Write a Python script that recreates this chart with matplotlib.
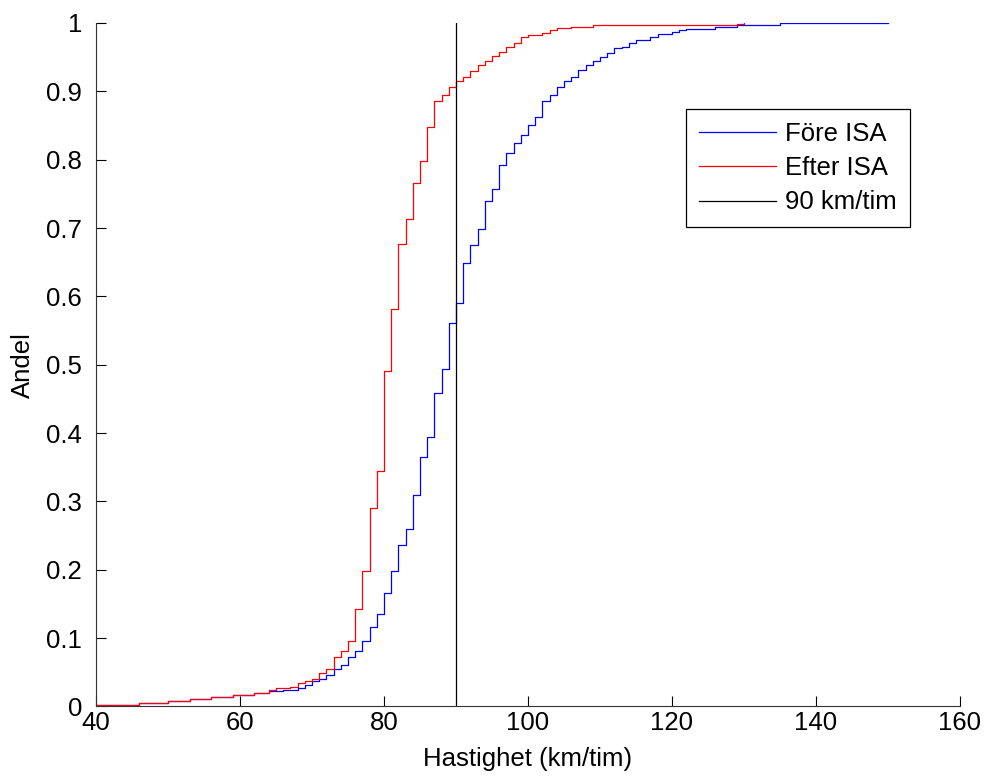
import numpy as np
import matplotlib
matplotlib.use('Agg')
import matplotlib.pyplot as plt

# Kumulativ fördelning av hastighet
fore_x = [40, 46, 50, 53, 56, 59, 62, 64, 66, 68, 69, 70, 71, 72, 73, 74, 75, 76, 77, 78,
          79, 80, 81, 82, 83, 84, 85, 86, 87, 88, 89, 90, 91, 92, 93, 94, 95, 96, 97, 98,
          99, 100, 101, 102, 103, 104, 105, 106, 107, 108, 109, 110, 111, 112, 113, 114,
          115, 117, 118, 120, 121, 122, 126, 129, 135, 150]
fore_y = [0.002, 0.0056, 0.0085, 0.011, 0.014, 0.017, 0.020, 0.022, 0.024, 0.027,
          0.031, 0.037, 0.040, 0.0466, 0.055, 0.061, 0.073, 0.081, 0.096, 0.116,
          0.136, 0.1665, 0.198, 0.236, 0.259, 0.309, 0.3646, 0.394, 0.4587, 0.4933,
          0.561, 0.590, 0.649, 0.675, 0.6986, 0.740, 0.757, 0.792, 0.810, 0.824,
          0.836, 0.851, 0.862, 0.886, 0.895, 0.906, 0.915, 0.921, 0.931, 0.9386,
          0.9444, 0.9507, 0.9566, 0.963, 0.9654, 0.970, 0.9747, 0.9795, 0.9834, 0.9864,
          0.9893, 0.9917, 0.9941, 0.997, 0.9993, 1.0]

efter_x = [40, 46, 50, 53, 56, 59, 62, 64, 65, 67, 68, 69, 70, 71, 72, 73, 74, 75, 76, 77,
           78, 79, 80, 81, 82, 83, 84, 85, 86, 87, 88, 89, 90, 91, 92, 93, 94, 95, 96, 97,
           98, 99, 100, 102, 103, 104, 106, 109, 129, 130]
efter_y = [0.002, 0.0056, 0.0085, 0.011, 0.014, 0.017, 0.020, 0.024, 0.027, 0.029,
           0.034, 0.037, 0.040, 0.049, 0.055, 0.073, 0.081, 0.096, 0.142, 0.198,
           0.291, 0.345, 0.491, 0.582, 0.676, 0.713, 0.766, 0.798, 0.848, 0.886,
           0.895, 0.906, 0.915, 0.921, 0.930, 0.939, 0.945, 0.951, 0.957, 0.965,
           0.971, 0.980, 0.983, 0.985, 0.989, 0.992, 0.9946, 0.9975, 0.999, 1.0]

grans = 90
x_ticks = [40, 60, 80, 100, 120, 140, 160]
y_ticks = [0, 0.1, 0.2, 0.3, 0.4, 0.5, 0.6, 0.7, 0.8, 0.9, 1]
y_ticklabels = ['0', '0.1', '0.2', '0.3', '0.4', '0.5', '0.6', '0.7', '0.8', '0.9', '1']

plt.rcParams['font.family'] = ['Liberation Sans', 'DejaVu Sans']
plt.rcParams['font.size'] = 18.5

fig = plt.figure(figsize=(9.89, 7.76), dpi=100)
ax = fig.add_axes([0.097, 0.0896, 0.8736, 0.8808])

ax.step(fore_x, fore_y, where='post', color='b', lw=0.9, label='Före ISA')
ax.step(efter_x, efter_y, where='post', color='r', lw=0.9, label='Efter ISA')
ax.plot([grans, grans], [0, 1], color='k', lw=0.9, label='90 km/tim')

ax.set_xlim(40, 160)
ax.set_ylim(0, 1)
ax.set_xticks(x_ticks)
ax.set_yticks(y_ticks)
ax.set_yticklabels(y_ticklabels)
ax.tick_params(direction='in', length=7, width=0.8, colors='k')
ax.tick_params(axis='x', pad=3)
ax.tick_params(axis='y', pad=10)
ax.spines['top'].set_visible(False)
ax.spines['right'].set_visible(False)
for s in ['left', 'bottom']:
    ax.spines[s].set_linewidth(0.8)
    ax.spines[s].set_color('#333333')

ax.set_xlabel('Hastighet (km/tim)', labelpad=9)
ax.set_ylabel('Andel', labelpad=8)

leg = ax.legend(loc='upper left', bbox_to_anchor=(0.683, 0.874), borderaxespad=0,
                fancybox=False, edgecolor='k', framealpha=1, handlelength=3.0,
                handletextpad=0.35, labelspacing=0.4, borderpad=0.5)
leg.get_frame().set_linewidth(0.9)

plt.savefig('out.png', dpi=100)
